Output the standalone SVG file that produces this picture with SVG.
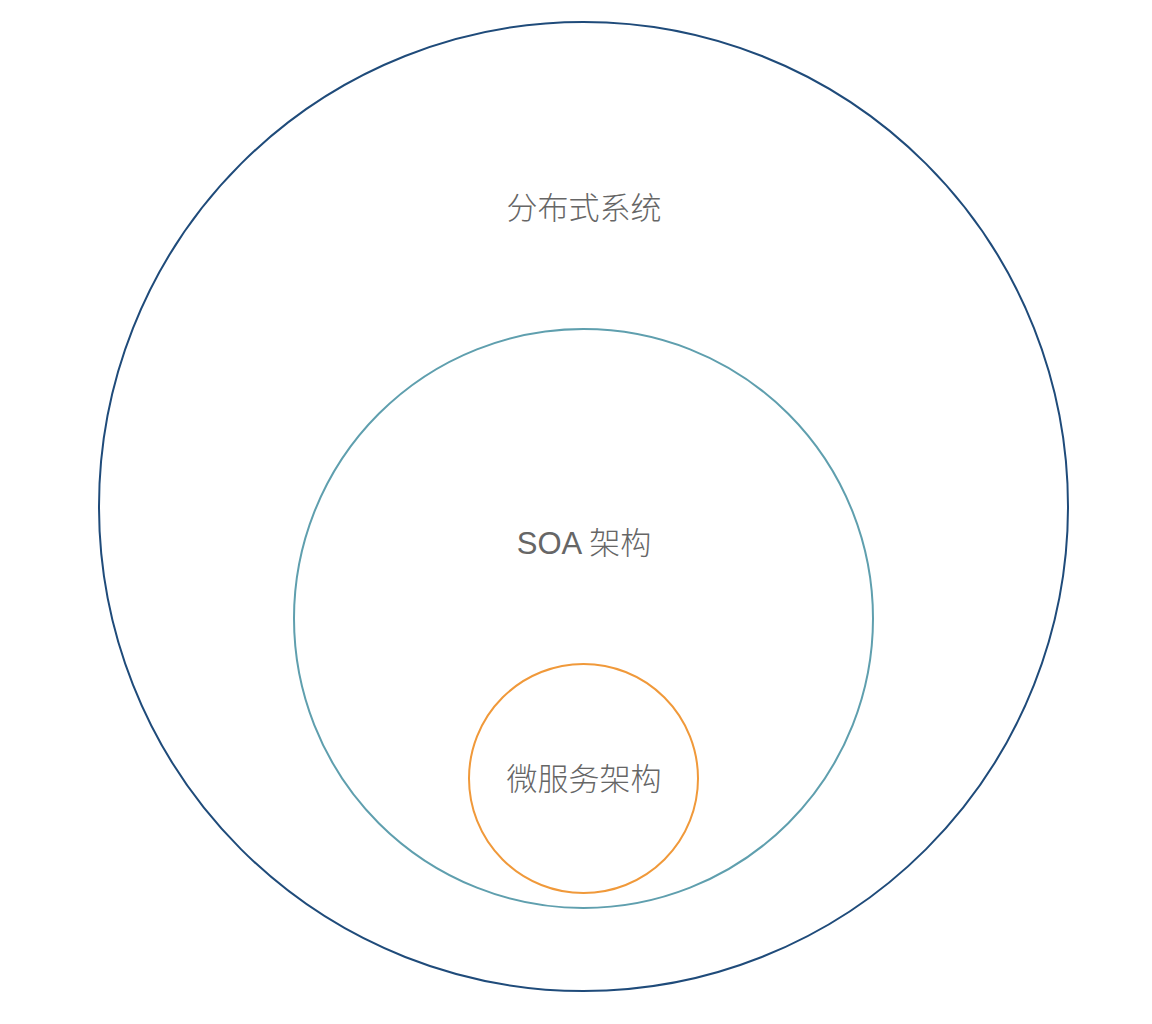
<svg xmlns="http://www.w3.org/2000/svg" width="1152" height="1024" viewBox="0 0 1152 1024">
<style>
.c{fill:none;stroke-width:2}
.t{font-family:"Noto Sans CJK SC","Liberation Sans",sans-serif;font-size:31px;font-weight:300;fill:#666;text-anchor:middle;dominant-baseline:central}
.l{font-family:"Liberation Sans","Noto Sans CJK SC",sans-serif}
</style>
<rect width="1152" height="1024" fill="#fff"/>
<g id="distributed">
<circle class="c" cx="583.5" cy="506.5" r="484.5" stroke="#1f4b7a"/>
<text class="t" x="584" y="205">分布式系统</text>
</g>
<g id="soa">
<circle class="c" cx="583.5" cy="618.5" r="289.5" stroke="#5f9fae"/>
<text class="t l" x="584" y="543">SOA 架构</text>
</g>
<g id="microservice">
<circle class="c" cx="583.5" cy="778.5" r="114.5" stroke="#f0993a"/>
<text class="t" x="584" y="776">微服务架构</text>
</g>
<g id="connectors"></g>
</svg>
